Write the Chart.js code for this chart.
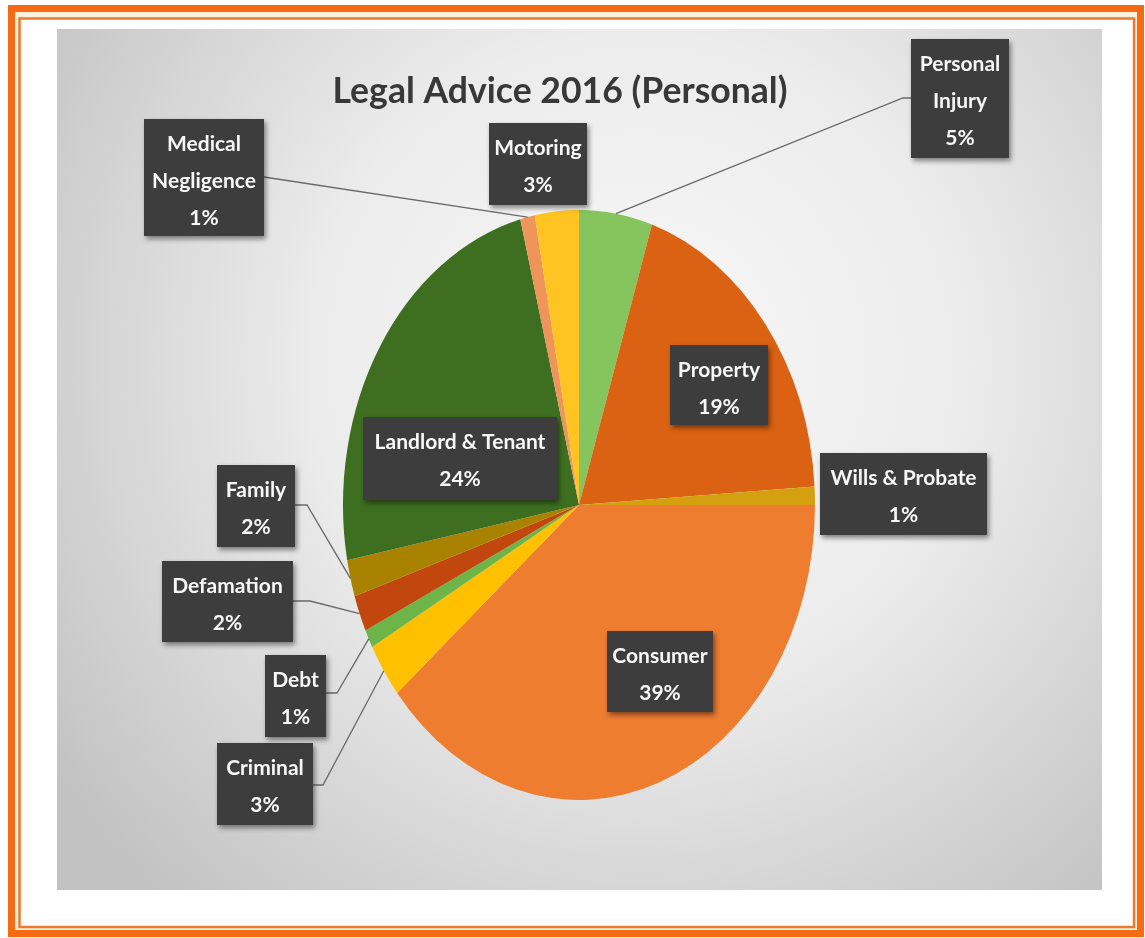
<!DOCTYPE html>
<html><head><meta charset="utf-8">
<script src="https://cdn.jsdelivr.net/npm/chart.js@4.4.0/dist/chart.umd.min.js"></script>
<style>html,body{margin:0;padding:0;background:#fff;overflow:hidden}canvas{display:block}</style>
</head><body>
<div style="width:1145px;height:938px;position:relative"><canvas id="c" width="1145" height="938"></canvas></div>
<script>
// ---- data ----
const categories = ['Consumer','Criminal','Debt','Defamation','Family','Landlord & Tenant','Medical Negligence','Motoring','Personal Injury','Property','Wills & Probate'];
const shares = [39, 3, 1, 2, 2, 24, 1, 3, 5, 19, 1];
const titleText = 'Legal Advice 2016 (Personal)';

// ---- styles ----
const sliceColors = ['#EE7D30','#FFC000','#6DB548','#C2470F','#A88200','#3E6E20','#F0955A','#FFC421','#86C45E','#DB6213','#D4A010'];

// ---- label layout (boxes, line breaks, leader elbows) ----
const labelLayout = {
  'Consumer':           {x:607,y:631,w:106,h:81, lines:['Consumer']},
  'Criminal':           {x:217,y:743,w:96, h:82, lines:['Criminal'], from:[313,785], elbow:[323,785]},
  'Debt':               {x:265,y:655,w:61, h:82, lines:['Debt'], from:[326,693], elbow:[337,693]},
  'Defamation':         {x:162,y:561,w:131,h:81, lines:['Defamation'], from:[293,601], elbow:[310,601]},
  'Family':             {x:217,y:465,w:78, h:82, lines:['Family'], from:[295,505], elbow:[307,505]},
  'Landlord & Tenant':  {x:363,y:417,w:194,h:83, lines:['Landlord & Tenant']},
  'Medical Negligence': {x:144,y:119,w:120,h:117,lines:['Medical','Negligence'], from:[264,177]},
  'Motoring':           {x:489,y:123,w:98, h:82, lines:['Motoring']},
  'Personal Injury':    {x:911,y:39, w:98, h:119,lines:['Personal','Injury'], from:[911,98], elbow:[903,98]},
  'Property':           {x:670,y:345,w:98, h:80, lines:['Property']},
  'Wills & Probate':    {x:820,y:453,w:167,h:82, lines:['Wills & Probate']}
};
const yScale = 295/236;

const framePlugin = {
  id:'frame',
  beforeDraw(chart){
    const ctx = chart.ctx;
    ctx.save();
    ctx.fillStyle = '#ffffff';
    ctx.fillRect(0,0,1145,938);
    ctx.fillStyle = '#FDF0DC';
    ctx.fillRect(8,5,1136,932);
    ctx.fillStyle = '#ffffff';
    ctx.fillRect(21,20,1112,906);
    ctx.strokeStyle = '#F56A12';
    ctx.lineWidth = 7;
    ctx.strokeRect(11.5,8.5,1129,925);
    ctx.strokeStyle = '#EC7A30';
    ctx.lineWidth = 2.5;
    ctx.strokeRect(19.5,18.5,1114.5,908.5);
    const g = ctx.createRadialGradient(640,360,0,640,360,720);
    g.addColorStop(0,'#f8f8f8');
    g.addColorStop(0.45,'#ececec');
    g.addColorStop(1,'#c2c2c2');
    ctx.fillStyle = g;
    ctx.fillRect(57,29,1045,861);
    ctx.fillStyle = '#383838';
    let fs = 42;
    ctx.font = 'bold ' + fs + 'px Lato';
    const w = ctx.measureText(titleText).width;
    fs = fs * 455 / w;
    ctx.font = 'bold ' + fs + 'px Lato';
    ctx.textAlign = 'center';
    ctx.textBaseline = 'alphabetic';
    ctx.fillText(titleText, 560, 103);
    ctx.restore();
  }
};

const ellipsePlugin = {
  id:'ellipse',
  beforeDatasetsDraw(chart){
    const a = chart.getDatasetMeta(0).data[0];
    const ctx = chart.ctx;
    ctx.save();
    ctx.translate(a.x, a.y);
    ctx.scale(1, yScale);
    ctx.translate(-a.x, -a.y);
  },
  afterDatasetsDraw(chart){ chart.ctx.restore(); }
};

const labelPlugin = {
  id:'labels',
  afterDraw(chart){
    const ctx = chart.ctx;
    const meta = chart.getDatasetMeta(0);
    ctx.save();
    meta.data.forEach((arc, i) => {
      const L = labelLayout[categories[i]];
      if (!L.from) return;
      const mid = (arc.startAngle + arc.endAngle)/2;
      const ex = arc.x + arc.outerRadius*Math.cos(mid);
      const ey = arc.y + arc.outerRadius*Math.sin(mid)*yScale;
      ctx.beginPath();
      ctx.strokeStyle = '#6a6a6a';
      ctx.lineWidth = 1.3;
      ctx.moveTo(L.from[0], L.from[1]);
      if (L.elbow) ctx.lineTo(L.elbow[0], L.elbow[1]);
      ctx.lineTo(ex, ey);
      ctx.stroke();
    });
    meta.data.forEach((arc, i) => {
      const L = labelLayout[categories[i]];
      ctx.save();
      ctx.shadowColor = 'rgba(0,0,0,0.45)';
      ctx.shadowBlur = 5;
      ctx.shadowOffsetX = 2;
      ctx.shadowOffsetY = 3;
      ctx.fillStyle = '#3d3d3d';
      ctx.fillRect(L.x, L.y, L.w, L.h);
      ctx.restore();
      const lines = L.lines.concat([shares[i] + '%']);
      ctx.fillStyle = '#f7f7f7';
      ctx.font = 'bold 21px Lato';
      ctx.textAlign = 'center';
      ctx.textBaseline = 'middle';
      lines.forEach((t, k) => {
        ctx.fillText(t, L.x + L.w/2, L.y + 25 + k*37);
      });
    });
    ctx.restore();
  }
};

new Chart(document.getElementById('c'), {
  type:'pie',
  data:{ labels: categories, datasets:[{ data: shares, backgroundColor: sliceColors, borderWidth:0, hoverOffset:0 }] },
  options:{
    responsive:false,
    animation:false,
    rotation:90,
    layout:{ padding:{ left:343, right:330, top:269, bottom:197 } },
    plugins:{ legend:{display:false}, tooltip:{enabled:false}, title:{display:false} },
    events:[]
  },
  plugins:[framePlugin, ellipsePlugin, labelPlugin]
});
</script>
</body></html>
